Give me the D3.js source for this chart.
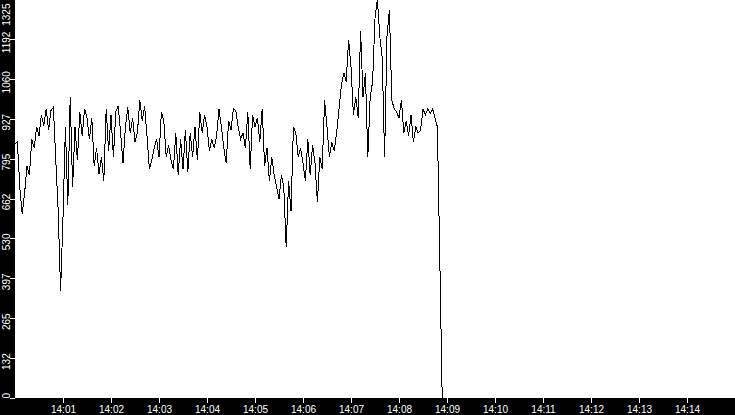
<!DOCTYPE html>
<html>
<head>
<meta charset="utf-8">
<script src="https://cdn.jsdelivr.net/npm/d3@7"></script>
<style>
    html, body { margin: 0; padding: 0; background: #000; }
    svg { display: block; }
</style>
</head>
<body>
<div id="chart"></div>
<script>
// samples every 3 seconds starting at 14:00:00
const startTime = '14:00:00';
const stepSeconds = 3;
const values = [
    845, 850, 700, 610, 680, 770, 740, 860, 830, 900,
    870, 940, 905, 960, 890, 955, 965, 790, 620, 355,
    600, 900, 640, 1000, 700, 900, 790, 950, 870, 960,
    930, 860, 930, 770, 830, 745, 800, 720, 960, 820,
    940, 800, 950, 970, 880, 780, 900, 965, 880, 930,
    850, 880, 990, 920, 970, 870, 760, 790, 830, 860,
    800, 950, 920, 800, 840, 790, 760, 880, 740, 860,
    760, 890, 750, 880, 800, 900, 790, 950, 880, 940,
    900, 820, 860, 830, 870, 960, 900, 830, 780, 920,
    890, 960, 955, 900, 860, 880, 830, 950, 760, 940,
    900, 930, 850, 960, 770, 830, 720, 800, 740, 700,
    660, 740, 700, 500, 720, 620, 900, 880, 800, 830,
    780, 720, 860, 740, 840, 780, 650, 800, 760, 990,
    900, 800, 850, 820, 880, 960, 1040, 1080, 1050, 1190,
    1100, 940, 1000, 930, 1220, 1000, 1080, 800, 1000, 1050,
    1260, 1325, 1200, 1130, 800, 1200, 1290, 990, 960, 950,
    930, 990, 880, 920, 870, 940, 850, 900, 880, 890,
    960, 940, 960, 945, 960, 930, 900, 460, 0,
];

const xDomain = ['14:00', '14:15'];
const xTickLabels = ['14:01', '14:02', '14:03', '14:04', '14:05', '14:06', '14:07',
    '14:08', '14:09', '14:10', '14:11', '14:12', '14:13', '14:14'];
const yTickValues = [0, 132.5, 265, 397.5, 530, 662.5, 795, 927.5, 1060, 1192.5, 1325];

const width = 735;
const height = 415;
const margin = { top: 0, right: 0, bottom: 16, left: 15 };

const parseTime = d3.timeParse('%H:%M:%S');
const parseMinute = d3.timeParse('%H:%M');
const t0 = parseTime(startTime);
const data = values.map((v, i) => ({ t: d3.timeSecond.offset(t0, i * stepSeconds), v }));

const svg = d3.select('#chart').append('svg')
    .attr('width', width)
    .attr('height', height)
    .style('font-family', '"DejaVu Sans", sans-serif');

svg.append('rect')
    .attr('width', width)
    .attr('height', height)
    .attr('fill', '#000');

const plotH = height - margin.bottom - 1;

svg.append('rect')
    .attr('x', margin.left)
    .attr('y', 0)
    .attr('width', width - margin.left)
    .attr('height', plotH)
    .attr('fill', '#fff');

const x = d3.scaleTime()
    .domain(xDomain.map(parseMinute))
    .range([margin.left, width]);

const y = d3.scaleLinear()
    .domain([0, d3.max(yTickValues)])
    .range([plotH, -1]);

// x axis
const xAxisG = svg.append('g')
    .attr('transform', `translate(0,${plotH})`)
    .call(d3.axisBottom(x)
        .tickValues(xTickLabels.map(parseMinute))
        .tickFormat(d3.timeFormat('%H:%M'))
        .tickSize(5));
xAxisG.select('.domain').remove();
xAxisG.selectAll('line').attr('stroke', '#fff').attr('shape-rendering', 'crispEdges');
xAxisG.selectAll('text').attr('fill', '#fff').style('font-size', '10px');

// y axis
const yAxisG = svg.append('g')
    .attr('transform', `translate(${margin.left},0)`)
    .call(d3.axisLeft(y)
        .tickValues(yTickValues)
        .tickFormat(d => Math.floor(d))
        .tickSize(5));
yAxisG.select('.domain').remove();
yAxisG.selectAll('line').attr('stroke', '#fff').attr('shape-rendering', 'crispEdges');
yAxisG.selectAll('text')
    .attr('fill', '#fff')
    .style('font-size', '10px')
    .attr('transform', 'rotate(-90)')
    .attr('dy', 0)
    .attr('y', -5)
    .attr('x', (d, i) => i === 0 ? 0 : (i === yTickValues.length - 1 ? -4 : -3))
    .attr('text-anchor', (d, i) => i === 0 ? 'start' : (i === yTickValues.length - 1 ? 'end' : 'middle'));

// series
const line = d3.line()
    .x(d => x(d.t))
    .y(d => y(d.v));

svg.append('path')
    .datum(data)
    .attr('fill', 'none')
    .attr('stroke', '#000')
    .attr('stroke-width', 1)
    .attr('shape-rendering', 'crispEdges')
    .attr('d', line);
</script>
</body>
</html>
